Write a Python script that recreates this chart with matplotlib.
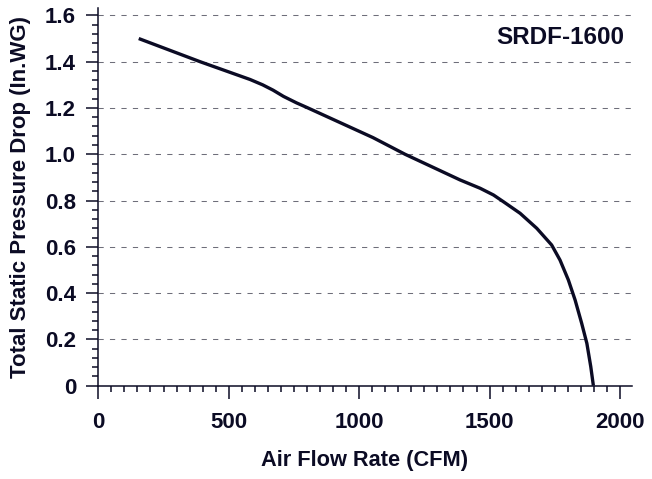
import numpy as np
import matplotlib.pyplot as plt
from matplotlib.ticker import MultipleLocator

# fan curve
flow_cfm = [155, 390, 582, 630, 670, 710, 760, 800, 1053, 1176, 1387, 1464,
            1515, 1553, 1617, 1681, 1738, 1770, 1802, 1828, 1853, 1873,
            1888, 1898]
pressure = [1.50, 1.40, 1.323, 1.30, 1.277, 1.25, 1.222, 1.202, 1.072, 1.0,
            0.889, 0.853, 0.824, 0.795, 0.745, 0.680, 0.608, 0.543, 0.457,
            0.370, 0.270, 0.183, 0.082, 0.0]

model_name = 'SRDF-1600'
x_ticks = [0, 500, 1000, 1500, 2000]
y_ticks = [0, 0.2, 0.4, 0.6, 0.8, 1.0, 1.2, 1.4, 1.6]
y_tick_labels = ['0', '0.2', '0.4', '0.6', '0.8', '1.0', '1.2', '1.4', '1.6']

ink = '#0b0b24'

plt.rcParams['font.family'] = ['Liberation Sans', 'DejaVu Sans']
plt.rcParams['font.weight'] = 'bold'

fig = plt.figure(figsize=(6.52, 4.79), dpi=100)
ax = fig.add_axes([0.1508, 0.1948, 0.9689 - 0.1508, 0.9833 - 0.1948])

ax.plot(flow_cfm, pressure, color=ink, lw=2.4, solid_capstyle='butt',
        solid_joinstyle='round', zorder=3)

ax.set_xlim(0, 2045)
ax.set_ylim(0, 1.632)

ax.set_xticks(x_ticks)
ax.set_yticks(y_ticks)
ax.set_yticklabels(y_tick_labels)
ax.xaxis.set_minor_locator(MultipleLocator(50))
ax.yaxis.set_minor_locator(MultipleLocator(0.04))

ax.tick_params(axis='both', which='major', direction='out', length=9,
               width=1.1, color=ink, labelcolor=ink, labelsize=16)
ax.tick_params(axis='both', which='minor', direction='out', length=4.3,
               width=1.1, color=ink)
ax.tick_params(axis='x', which='major', pad=10)
ax.tick_params(axis='y', which='major', pad=7)

for lbl in ax.get_xticklabels() + ax.get_yticklabels():
    lbl.set_fontweight('bold')

for side in ['top', 'right']:
    ax.spines[side].set_visible(False)
for side in ['left', 'bottom']:
    ax.spines[side].set_color(ink)
    ax.spines[side].set_linewidth(1.1)

# dashed horizontal grid at the major y ticks (not at zero)
for yv in y_ticks[1:]:
    ax.axhline(yv, color='#6e6e7a', lw=0.75, ls=(0, (5, 6)), zorder=1)

ax.set_xlabel('Air Flow Rate (CFM)', fontsize=15.7, fontweight='bold',
              color=ink, labelpad=12)
ax.set_ylabel('Total Static Pressure Drop (In.WG)', fontsize=16,
              fontweight='bold', color=ink, labelpad=10)

ax.text(0.986, 0.923, model_name, transform=ax.transAxes, ha='right',
        va='center', fontsize=17.5, fontweight='bold', color=ink)

fig.savefig('out.png', dpi=100)
